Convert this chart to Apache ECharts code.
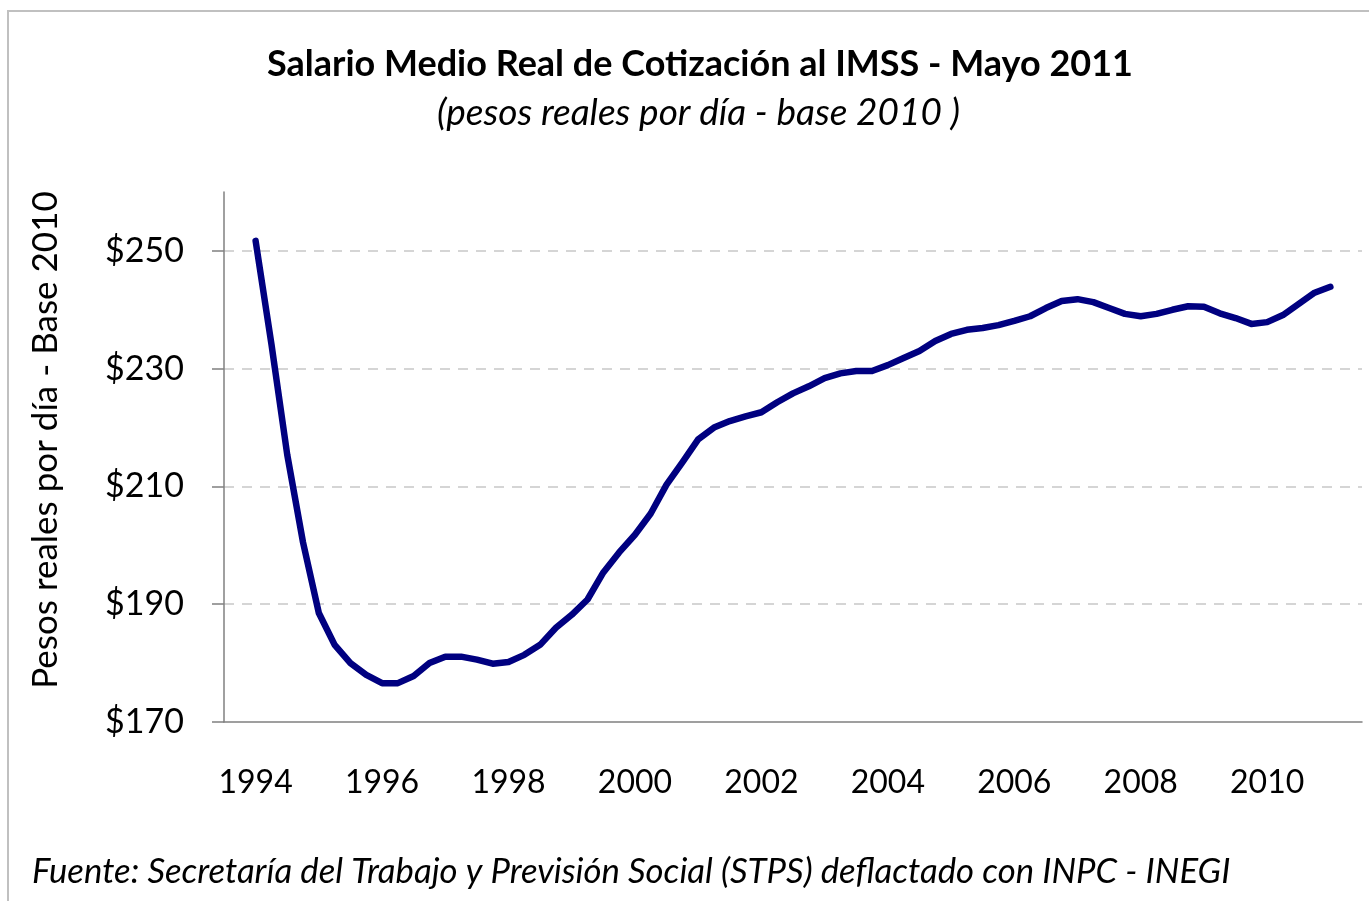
<!DOCTYPE html>
<html>
	<head>
		<meta charset="utf-8">
		<title>Salario Medio Real de Cotización al IMSS</title>
		<script src="https://cdn.jsdelivr.net/npm/echarts@6/dist/echarts.min.js"></script>
		<style type="text/css">
			html, body {
				margin: 0;
				padding: 0;
				background: #fff;
			}
			#main {
				width: 1369px;
				height: 901px;
			}
		</style>
	</head>

	<body>
		<div id="main"></div>

		<script>
			// años del eje x (cada categoría es un año)
			var years = ['1994', '1995', '1996', '1997', '1998', '1999', '2000', '2001', '2002',
				'2003', '2004', '2005', '2006', '2007', '2008', '2009', '2010', '2011'];

			// salario real trimestral, desde 1994 T1 hasta 2011 T1
			var salario = [
				251.7, 234.2, 215.4, 200.5, 188.5, 183.1, 180.0, 178.0,
				176.6, 176.6, 177.8, 180.0, 181.1, 181.1, 180.6, 179.9,
				180.2, 181.4, 183.1, 186.0, 188.2, 190.8, 195.4, 198.8,
				201.8, 205.4, 210.3, 214.1, 218.0, 220.0, 221.1, 221.9,
				222.6, 224.3, 225.8, 227.0, 228.4, 229.2, 229.6, 229.6,
				230.6, 231.8, 233.0, 234.7, 235.9, 236.6, 236.9, 237.4,
				238.1, 238.9, 240.3, 241.5, 241.8, 241.3, 240.3, 239.3,
				238.9, 239.3, 240.0, 240.6, 240.5, 239.4, 238.6, 237.6,
				237.9, 239.1, 241.0, 242.9, 243.9
			];

			var yTicks = [170, 190, 210, 230, 250];

			var font = 'Lato';

			// posición de cada trimestre en años
			var puntos = [];
			for (var i = 0; i < salario.length; i++) {
				puntos.push([1994 + i / 4, salario[i]]);
			}

			var chart = echarts.init(document.getElementById('main'));

			chart.setOption({
				animation: false,
				backgroundColor: '#fff',
				title: [{
						text: 'Salario Medio Real de Cotización al IMSS - Mayo 2011',
						left: 262,
						top: 41,
						textStyle: {
							fontFamily: font,
							fontSize: 36,
							fontWeight: 'bold',
							color: '#000'
						}
					},
					{
						text: '(pesos reales por día - base 2010 )',
						left: 432,
						top: 90,
						textStyle: {
							fontFamily: font,
							fontSize: 37,
							fontStyle: 'italic',
							fontWeight: 'normal',
							color: '#000'
						}
					},
					{
						text: 'Fuente: Secretaría del Trabajo y Previsión Social (STPS) deflactado con INPC - INEGI',
						left: 27,
						top: 849,
						textStyle: {
							fontFamily: font,
							fontSize: 34.7,
							fontStyle: 'italic',
							fontWeight: 'normal',
							color: '#000'
						}
					}
				],
				graphic: [{
						type: 'rect',
						shape: {
							x: 8,
							y: 11,
							width: 1400,
							height: 1000
						},
						style: {
							fill: 'none',
							stroke: '#c0c0c0',
							lineWidth: 2
						},
						silent: true
					},
					{
						// título del eje y
						type: 'text',
						x: 46,
						y: 440,
						rotation: Math.PI / 2,
						style: {
							text: 'Pesos reales por día - Base 2010',
							fontFamily: font,
							fontSize: 35,
							fill: '#000',
							align: 'center',
							verticalAlign: 'middle'
						},
						silent: true
					}
				],
				grid: {
					left: 224,
					right: 7,
					top: 192,
					bottom: 179
				},
				xAxis: [{
						type: 'category',
						data: years,
						boundaryGap: true,
						axisLine: {
							lineStyle: {
								color: '#808080',
								width: 1.5
							}
						},
						axisTick: {
							interval: 0,
							length: 12,
							lineStyle: {
								color: '#808080',
								width: 1.5
							}
						},
						axisLabel: {
							interval: 1,
							margin: 45,
							fontFamily: font,
							fontSize: 32,
							color: '#000'
						},
						splitLine: {
							show: false
						}
					},
					{
						type: 'value',
						min: 1993.5,
						max: 2011.5,
						show: false
					}
				],
				yAxis: {
					type: 'value',
					min: 170,
					max: 260,
					interval: 20,
					axisLine: {
						show: true,
						lineStyle: {
							color: '#808080',
							width: 1.5
						}
					},
					axisTick: {
						show: true,
						length: 12,
						customValues: yTicks,
						lineStyle: {
							color: '#808080',
							width: 1.5
						}
					},
					axisLabel: {
						customValues: yTicks,
						margin: 40,
						fontFamily: font,
						fontSize: 34,
						color: '#000',
						formatter: function(v) {
							return '$' + v;
						}
					},
					splitLine: {
						show: true,
						showMinLine: false,
						showMaxLine: true,
						lineStyle: {
							color: '#c8c8c8',
							type: [10, 8],
							width: 1.5
						}
					}
				},
				series: [{
					name: 'Salario',
					type: 'line',
					xAxisIndex: 1,
					data: puntos,
					showSymbol: false,
					symbol: 'none',
					smooth: false,
					lineStyle: {
						color: '#000080',
						width: 6.5,
						cap: 'round',
						join: 'round'
					}
				}]
			});
		</script>
	</body>
</html>
